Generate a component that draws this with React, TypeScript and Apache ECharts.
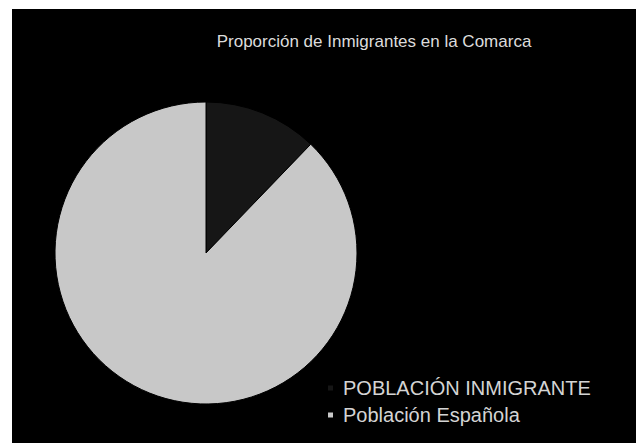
import React, { useEffect, useRef } from "react";
import * as echarts from "echarts";

const titleText = "Proporción de Inmigrantes en la Comarca";
const categories = ["POBLACIÓN INMIGRANTE", "Población Española"];
const values = [12.2, 87.8];
const colors = ["#161616", "#c8c8c8"];

export default function App() {
  const ref = useRef<HTMLDivElement>(null);
  useEffect(() => {
    if (!ref.current) return;
    const chart = echarts.init(ref.current, undefined, { renderer: "svg" });
    chart.setOption({
      animation: false,
      backgroundColor: "#000000",
      title: {
        text: titleText,
        left: 362,
        top: 24,
        padding: 0,
        textAlign: "center",
        textStyle: {
          color: "#dcdcdc",
          fontSize: 17,
          fontWeight: "normal",
          fontFamily: "Liberation Sans",
        },
      },
      legend: {
        orient: "vertical",
        left: 314,
        top: 369,
        padding: 0,
        itemWidth: 7,
        itemHeight: 7,
        itemGap: 7,
        icon: "rect",
        data: categories,
        textStyle: {
          color: "#d4d4d4",
          fontSize: 20,
          fontFamily: "Liberation Sans",
          padding: [0, 0, 0, 4],
        },
      },
      series: [
        {
          type: "pie",
          center: [194, 244],
          radius: 151,
          startAngle: 90,
          clockwise: true,
          label: { show: false },
          labelLine: { show: false },
          emphasis: { disabled: true },
          itemStyle: { borderColor: "#000000", borderWidth: 1 },
          data: categories.map((name, i) => ({
            name,
            value: values[i],
            itemStyle: { color: colors[i] },
          })),
        },
      ],
    });
    return () => chart.dispose();
  }, []);
  return (
    <div
      style={{
        position: "fixed",
        left: 0,
        top: 0,
        width: 636,
        height: 443,
        background: "#ffffff",
      }}
    >
      <div
        ref={ref}
        style={{ position: "absolute", left: 12, top: 9, width: 624, height: 434 }}
      />
    </div>
  );
}
